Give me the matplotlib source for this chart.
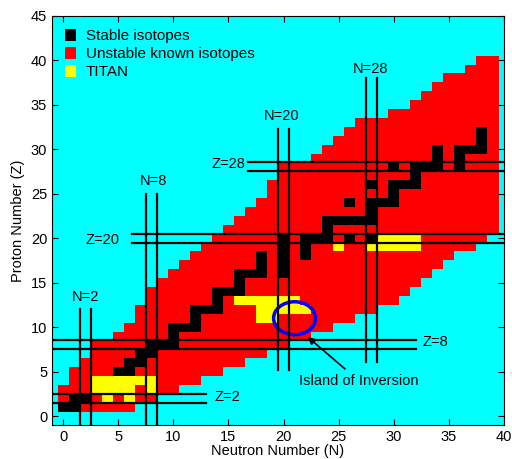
import numpy as np
import matplotlib
matplotlib.use("Agg")
from matplotlib import pyplot as plt
from matplotlib.colors import ListedColormap
from matplotlib.patches import Patch, Ellipse

plt.rcParams["font.family"] = ["Liberation Sans", "DejaVu Sans"]
plt.rcParams["font.size"] = 10.5

# one row per proton number: lightest and heaviest known neutron number
z_rows = list(range(1, 41))
n_first = [0, 0, 0, 1, 1, 2, 3, 3, 5, 6, 7, 7, 8, 8, 9, 10, 11, 12, 13, 14,
           15, 16, 17, 18, 19, 19, 20, 20, 23, 24, 25, 26, 27, 30, 32, 33, 34, 35, 37, 38]
n_last = [6, 8, 10, 12, 14, 16, 18, 20, 22, 24, 26, 28, 30, 31, 32, 33, 34, 35, 37, 38,
          39, 39, 39, 39, 39, 39, 39, 39, 39, 39, 39, 39, 39, 39, 39, 39, 39, 39, 39, 39]

# stable isotopes, neutron numbers per Z
stable = {
    1: [0, 1], 2: [1, 2], 3: [3, 4], 4: [5], 5: [5, 6], 6: [6, 7], 7: [7, 8],
    8: [8, 9, 10], 9: [10], 10: [10, 11, 12], 11: [12], 12: [12, 13, 14],
    13: [14], 14: [14, 15, 16], 15: [16], 16: [16, 17, 18, 20], 17: [18, 20],
    18: [18, 20, 22], 19: [20, 22], 20: [20, 22, 23, 24, 26, 28], 21: [24],
    22: [24, 25, 26, 27, 28], 23: [28], 24: [26, 28, 29, 30], 25: [30],
    26: [28, 30, 31, 32], 27: [32], 28: [30, 32, 33, 34, 36], 29: [34, 36],
    30: [34, 36, 37, 38], 31: [38], 32: [38],
}

# isotopes measured at TITAN
titan = {
    2: [4, 6], 3: [3, 4, 5, 6, 8], 4: [3, 4, 5, 6, 7, 8],
    11: [18, 19], 12: [18, 19, 20, 21, 22], 13: [16, 17, 18, 19, 20, 21],
    19: [25, 28, 29, 30, 31, 32], 20: [29, 30, 31, 32],
}

# magic numbers: (magic, start, stop) of the guide lines
n_magic = [(2, -1, 12), (8, -1, 25), (20, 5.2, 32.3), (28, 6.1, 38)]
z_magic = [(2, -1, 13), (8, -1, 32), (20, 6.3, 40), (28, 16.8, 40)]

n_axis = np.arange(-1, 41)
z_axis = np.arange(-1, 46)
grid = np.zeros((len(z_axis), len(n_axis)))
for z, lo, hi in zip(z_rows, n_first, n_last):
    for n in range(lo, hi + 1):
        grid[z + 1, n + 1] = 1
for z, ns in stable.items():
    for n in ns:
        grid[z + 1, n + 1] = 2
for z, ns in titan.items():
    for n in ns:
        grid[z + 1, n + 1] = 3

cmap = ListedColormap(["#00ffff", "#ff0000", "#000000", "#ffff00"])

fig = plt.figure(figsize=(5.12, 4.59), dpi=100)
ax = fig.add_axes([0.1016, 0.074, 0.8828, 0.892])
ax.pcolormesh(np.arange(-1.5, 41), np.arange(-1.5, 46), grid, cmap=cmap,
              vmin=-0.5, vmax=3.5)

for m, a, b in n_magic:
    ax.plot([m - 0.5, m - 0.5], [a, b], color="k", lw=1.6)
    ax.plot([m + 0.5, m + 0.5], [a, b], color="k", lw=1.6)
for m, a, b in z_magic:
    ax.plot([a, b], [m - 0.5, m - 0.5], color="k", lw=1.6)
    ax.plot([a, b], [m + 0.5, m + 0.5], color="k", lw=1.6)

ax.text(2, 13.4, "N=2", ha="center", va="center")
ax.text(8.2, 26.4, "N=8", ha="center", va="center")
ax.text(19.8, 33.7, "N=20", ha="center", va="center")
ax.text(27.9, 39, "N=28", ha="center", va="center")
ax.text(14.9, 2.2, "Z=2", ha="center", va="center")
ax.text(33.8, 8.3, "Z=8", ha="center", va="center")
ax.text(3.6, 19.8, "Z=20", ha="center", va="center")
ax.text(15, 28.3, "Z=28", ha="center", va="center")

ax.add_patch(Ellipse((21, 11), 3.8, 3.7, fill=False, edgecolor="#0000ff", lw=2.5))
ax.annotate("Island of Inversion", xy=(22, 9.1), xytext=(26.8, 4),
            ha="center", va="center",
            arrowprops=dict(arrowstyle="-|>", color="k", lw=1.2))

ax.set_xlim(-1, 40)
ax.set_ylim(-1, 45)
ax.set_xticks(range(0, 41, 5))
ax.set_yticks(range(0, 46, 5))
ax.tick_params(direction="in", top=True, right=True, length=4)
ax.set_xlabel("Neutron Number (N)", labelpad=0)
ax.set_ylabel("Proton Number (Z)")

handles = [Patch(facecolor="#000000", label="Stable isotopes"),
           Patch(facecolor="#ff0000", label="Unstable known isotopes"),
           Patch(facecolor="#ffff00", label="TITAN")]
ax.legend(handles=handles, loc="upper left", frameon=False, fontsize=11,
          handlelength=0.75, handleheight=0.9, handletextpad=0.6,
          labelspacing=0.22, borderaxespad=0.25, borderpad=0.6)

fig.savefig("out.png", dpi=100)
